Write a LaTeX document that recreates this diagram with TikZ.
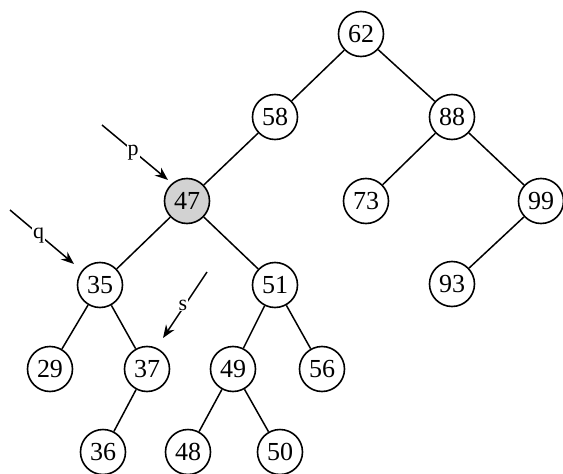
\documentclass[tikz,border=0pt]{standalone}
\usepackage{fontspec}
\setmainfont{Liberation Serif}
\usetikzlibrary{arrows.meta}
\begin{document}
\begin{tikzpicture}[x=1pt,y=-1pt,
  keynode/.style={circle,draw,line width=1.6pt,minimum size=45pt,inner sep=0pt,font=\fontsize{26}{26}\selectfont},
  marked/.style={keynode,fill=gray!35},
  edge/.style={line width=1.5pt},
  pointer/.style={line width=1.5pt,-{Stealth[length=13pt,width=10pt]}},
  ptrlabel/.style={fill=white,inner sep=1pt,font=\fontsize{22}{22}\selectfont}]
\useasboundingbox (0,0) rectangle (563,474);
\node[keynode] (n62) at (361,34) {62};
\node[keynode] (n58) at (275,117) {58};
\node[keynode] (n88) at (452,117) {88};
\node[marked] (n47) at (187,201) {47};
\node[keynode] (n73) at (366,201) {73};
\node[keynode] (n99) at (541,201) {99};
\node[keynode] (n35) at (100,285) {35};
\node[keynode] (n51) at (275,285) {51};
\node[keynode] (n93) at (452,284) {93};
\node[keynode] (n29) at (50,369) {29};
\node[keynode] (n37) at (147,369) {37};
\node[keynode] (n49) at (233,369) {49};
\node[keynode] (n56) at (322,369) {56};
\node[keynode] (n36) at (103,452) {36};
\node[keynode] (n48) at (188,452) {48};
\node[keynode] (n50) at (280,452) {50};
\draw[edge] (n62) -- (n58);
\draw[edge] (n62) -- (n88);
\draw[edge] (n58) -- (n47);
\draw[edge] (n88) -- (n73);
\draw[edge] (n88) -- (n99);
\draw[edge] (n99) -- (n93);
\draw[edge] (n47) -- (n35);
\draw[edge] (n47) -- (n51);
\draw[edge] (n35) -- (n29);
\draw[edge] (n35) -- (n37);
\draw[edge] (n37) -- (n36);
\draw[edge] (n51) -- (n49);
\draw[edge] (n51) -- (n56);
\draw[edge] (n49) -- (n48);
\draw[edge] (n49) -- (n50);
\coordinate (pstart) at (102,125);
\coordinate (pend) at (168,180);
\coordinate (qstart) at (10,210);
\coordinate (qend) at (74,264);
\coordinate (sstart) at (207,272);
\coordinate (send) at (163,338);
\draw[pointer] (pstart) -- node[ptrlabel,pos=0.5,xshift=-2pt] {p} (pend);
\draw[pointer] (qstart) -- node[ptrlabel,pos=0.48,xshift=-2pt] {q} (qend);
\draw[pointer] (sstart) -- node[ptrlabel,pos=0.5,xshift=-2pt] {s} (send);
\end{tikzpicture}
\end{document}
